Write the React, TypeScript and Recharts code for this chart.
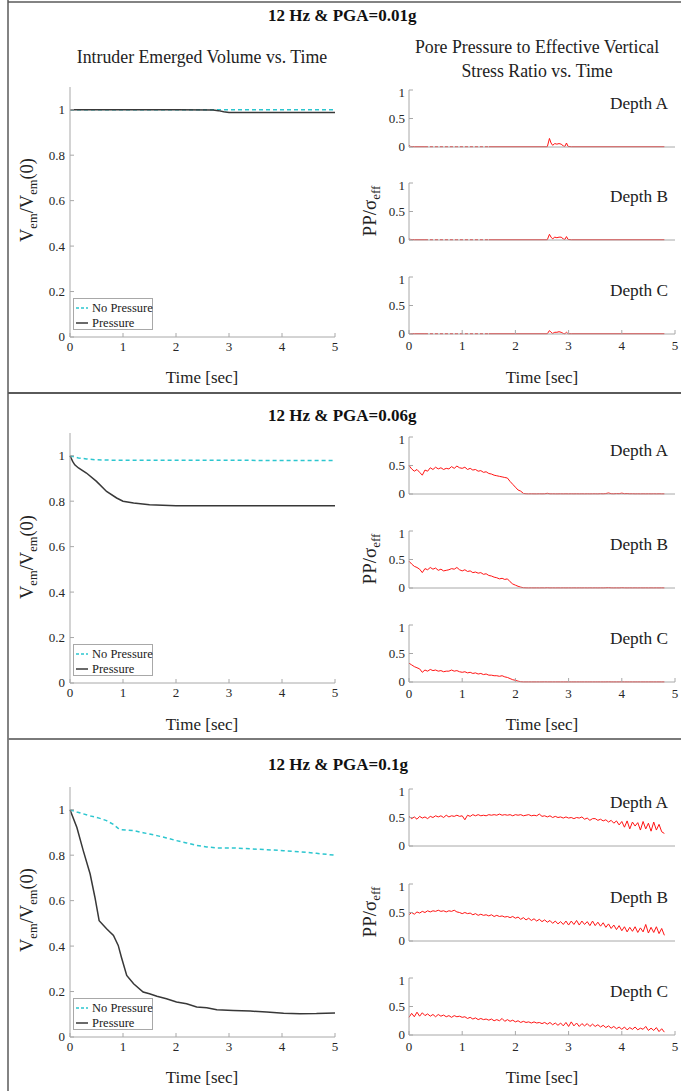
import React from 'react';
import { LineChart, Line, XAxis, YAxis } from 'recharts';

// ---- axis ticks ----
const timeTicks = [0, 1, 2, 3, 4, 5];
const volTicks = [0, 0.2, 0.4, 0.6, 0.8, 1];
const ppTicks = [0, 0.5, 1];

// ---- emerged volume, PGA = 0.01g ----
const vol1Time = [0, 1, 2, 2.7, 2.8, 2.9, 3.0, 4, 5];
const vol1NoPressure = [1, 1, 1, 1, 1, 1, 1, 1, 1];
const vol1Pressure = [1, 1, 1, 0.999, 0.996, 0.991, 0.988, 0.988, 0.988];

// ---- emerged volume, PGA = 0.06g ----
const vol2Time = [0, 0.05, 0.09, 0.16, 0.31, 0.5, 0.69, 0.88, 1.0, 1.2, 1.5, 2.0, 3, 4, 5];
const vol2NoPressure = [1.0, 0.997, 0.994, 0.99, 0.986, 0.982, 0.981, 0.98, 0.98, 0.98, 0.98, 0.98, 0.98, 0.979, 0.979];
const vol2Pressure = [1.0, 0.975, 0.96, 0.946, 0.924, 0.887, 0.843, 0.814, 0.8, 0.792, 0.784, 0.78, 0.78, 0.78, 0.78];

// ---- emerged volume, PGA = 0.1g ----
const vol3Time = [0, 0.13, 0.25, 0.38, 0.47, 0.55, 0.69, 0.82, 0.91, 0.97, 1.07, 1.2, 1.38, 1.5, 1.64, 1.82, 2.01, 2.2, 2.39, 2.58, 2.77, 3.08, 3.4, 3.71, 4.03, 4.34, 4.65, 5];
const vol3NoPressure = [1.0, 0.99, 0.982, 0.973, 0.968, 0.963, 0.952, 0.935, 0.918, 0.912, 0.91, 0.908, 0.899, 0.893, 0.886, 0.876, 0.864, 0.854, 0.843, 0.836, 0.832, 0.832, 0.828, 0.824, 0.82, 0.815, 0.808, 0.8];
const vol3Pressure = [1.0, 0.922, 0.82, 0.717, 0.615, 0.512, 0.476, 0.447, 0.403, 0.351, 0.271, 0.234, 0.198, 0.19, 0.179, 0.168, 0.154, 0.146, 0.132, 0.129, 0.12, 0.117, 0.114, 0.11, 0.105, 0.102, 0.103, 0.106];

// ---- pore pressure ratio, PGA = 0.01g (sparse samples) ----
const p1Time = [0, 0.03, 0.1, 0.3, 0.9, 1.5, 2.6, 2.64, 2.67, 2.7, 2.74, 2.78, 2.82, 2.86, 2.9, 2.93, 2.96, 2.99, 3.05, 4.8];
const p1Sparse = [null, null, null, 0.005, 0.005, 0.005, null, null, null, null, null, null, null, null, null, null, null, null, null, null];
const p1A = [0.03, 0.01, 0.005, 0.005, null, 0.005, 0.005, 0.15, 0.07, 0.03, 0.06, 0.05, 0.06, 0.05, 0.02, 0.01, 0.07, 0.01, 0.005, 0.005];
const p1B = [0.02, 0.01, 0.005, 0.005, null, 0.005, 0.005, 0.1, 0.05, 0.02, 0.05, 0.04, 0.05, 0.05, 0.02, 0.01, 0.06, 0.01, 0.005, 0.005];
const p1C = [0.01, 0.005, 0.005, 0.005, null, 0.005, 0.005, 0.06, 0.03, 0.01, 0.03, 0.03, 0.04, 0.03, 0.01, 0.005, 0.03, 0.005, 0.005, 0.005];

// ---- pore pressure ratio sample times for PGA = 0.06g and 0.1g ----
const ppTime = [
  0, 0.05, 0.1, 0.15, 0.2, 0.25, 0.3, 0.35, 0.4, 0.45,
  0.5, 0.55, 0.6, 0.65, 0.7, 0.75, 0.8, 0.85, 0.9, 0.95,
  1.0, 1.05, 1.1, 1.15, 1.2, 1.25, 1.3, 1.35, 1.4, 1.45,
  1.5, 1.55, 1.6, 1.65, 1.7, 1.75, 1.8, 1.85, 1.9, 1.95,
  2.0, 2.05, 2.1, 2.15, 2.2, 2.25, 2.3, 2.35, 2.4, 2.45,
  2.5, 2.55, 2.6, 2.65, 2.7, 2.75, 2.8, 2.85, 2.9, 2.95,
  3.0, 3.05, 3.1, 3.15, 3.2, 3.25, 3.3, 3.35, 3.4, 3.45,
  3.5, 3.55, 3.6, 3.65, 3.7, 3.75, 3.8, 3.85, 3.9, 3.95,
  4.0, 4.05, 4.1, 4.15, 4.2, 4.25, 4.3, 4.35, 4.4, 4.45,
  4.5, 4.55, 4.6, 4.65, 4.7, 4.75, 4.8,
];

const p2A = [
  0.5, 0.44, 0.4, 0.43, 0.38, 0.33, 0.42, 0.4, 0.46, 0.43,
  0.47, 0.44, 0.46, 0.43, 0.45, 0.44, 0.48, 0.45, 0.49, 0.46,
  0.45, 0.47, 0.43, 0.45, 0.42, 0.43, 0.4, 0.41, 0.38, 0.39,
  0.36, 0.35, 0.33, 0.32, 0.31, 0.3, 0.29, 0.28, 0.22, 0.17,
  0.12, 0.07, 0.05, 0.01, 0.004, 0.003, 0.004, 0.003, 0.003, 0.004,
  0.003, 0.004, 0.012, 0.003, 0.004, 0.003, 0.003, 0.004, 0.003, 0.004,
  0.003, 0.004, 0.003, 0.004, 0.003, 0.004, 0.003, 0.004, 0.003, 0.004,
  0.004, 0.003, 0.006, 0.004, 0.008, 0.018, 0.006, 0.004, 0.008, 0.006,
  0.015, 0.006, 0.008, 0.004, 0.005, 0.003, 0.004, 0.003, 0.004, 0.003,
  0.004, 0.003, 0.004, 0.003, 0.004, 0.003, 0.003,
];
const p2B = [
  0.47, 0.42, 0.38, 0.36, 0.33, 0.27, 0.34, 0.32, 0.36, 0.33,
  0.35, 0.31, 0.33, 0.3, 0.31, 0.32, 0.34, 0.33, 0.36, 0.32,
  0.3, 0.32, 0.29, 0.3, 0.27, 0.28, 0.26, 0.27, 0.24, 0.25,
  0.22, 0.21, 0.19, 0.18, 0.16, 0.17, 0.15, 0.16, 0.11, 0.07,
  0.05, 0.03, 0.015, 0.005, 0.003, 0.002, 0.003, 0.002, 0.003, 0.002,
  0.003, 0.002, 0.005, 0.002, 0.003, 0.002, 0.003, 0.002, 0.003, 0.002,
  0.003, 0.002, 0.003, 0.002, 0.003, 0.002, 0.003, 0.002, 0.003, 0.002,
  0.003, 0.002, 0.003, 0.002, 0.004, 0.006, 0.003, 0.002, 0.003, 0.002,
  0.005, 0.003, 0.002, 0.003, 0.002, 0.003, 0.002, 0.003, 0.002, 0.003,
  0.002, 0.003, 0.002, 0.003, 0.002, 0.003, 0.002,
];
const p2C = [
  0.33, 0.3, 0.27, 0.25, 0.23, 0.17, 0.21, 0.19, 0.22, 0.2,
  0.21, 0.19, 0.2, 0.18, 0.19, 0.19, 0.21, 0.19, 0.2, 0.18,
  0.17, 0.18, 0.16, 0.17, 0.15, 0.16, 0.14, 0.15, 0.13, 0.14,
  0.12, 0.12, 0.11, 0.11, 0.1, 0.11, 0.09, 0.08, 0.06, 0.04,
  0.03, 0.015, 0.005, 0.002, 0.002, 0.002, 0.002, 0.002, 0.002, 0.002,
  0.002, 0.003, 0.002, 0.002, 0.002, 0.002, 0.002, 0.002, 0.002, 0.002,
  0.002, 0.002, 0.002, 0.002, 0.002, 0.002, 0.002, 0.002, 0.002, 0.002,
  0.002, 0.002, 0.002, 0.002, 0.002, 0.003, 0.002, 0.002, 0.002, 0.002,
  0.003, 0.002, 0.002, 0.002, 0.002, 0.002, 0.002, 0.002, 0.002, 0.002,
  0.002, 0.002, 0.002, 0.002, 0.002, 0.002, 0.002,
];

const p3A = [
  0.52, 0.48, 0.51, 0.47, 0.52, 0.49, 0.51, 0.48, 0.52, 0.5,
  0.53, 0.51, 0.53, 0.5, 0.54, 0.51, 0.53, 0.52, 0.54, 0.52,
  0.53, 0.46, 0.54, 0.52, 0.55, 0.53, 0.55, 0.53, 0.54, 0.53,
  0.55, 0.54, 0.55, 0.54, 0.56, 0.54, 0.55, 0.54, 0.55, 0.53,
  0.55, 0.54, 0.55, 0.53, 0.54, 0.55, 0.53, 0.54, 0.53, 0.56,
  0.52, 0.53, 0.51, 0.53, 0.5, 0.52, 0.5, 0.51, 0.49, 0.51,
  0.49, 0.5, 0.48, 0.5, 0.49, 0.51, 0.47, 0.49, 0.45, 0.48,
  0.48, 0.45, 0.47, 0.44, 0.46, 0.42, 0.45, 0.4, 0.44, 0.37,
  0.43, 0.33, 0.44, 0.3, 0.42, 0.35, 0.41, 0.28, 0.43, 0.3,
  0.4, 0.26, 0.42, 0.28, 0.38, 0.25, 0.22,
];
const p3B = [
  0.46, 0.5, 0.47, 0.51, 0.49, 0.52, 0.5, 0.53, 0.51, 0.53,
  0.52, 0.54, 0.52, 0.53, 0.51, 0.53, 0.52, 0.54, 0.51, 0.5,
  0.48, 0.5, 0.48, 0.49, 0.46, 0.48, 0.45, 0.47, 0.45, 0.46,
  0.44, 0.46, 0.43, 0.45, 0.43, 0.44, 0.42, 0.43, 0.41, 0.43,
  0.4, 0.42, 0.38, 0.41, 0.37, 0.4, 0.36, 0.39, 0.35, 0.38,
  0.34, 0.37, 0.33, 0.36, 0.31, 0.35, 0.3, 0.34, 0.29, 0.35,
  0.28, 0.35, 0.29, 0.36, 0.28, 0.35, 0.29, 0.34, 0.27, 0.35,
  0.27, 0.33, 0.26, 0.32, 0.24, 0.3, 0.22, 0.28, 0.2, 0.27,
  0.18, 0.25, 0.16, 0.24, 0.17, 0.25, 0.15, 0.23, 0.16, 0.29,
  0.14, 0.24, 0.15, 0.25, 0.13, 0.22, 0.1,
];
const p3C = [
  0.31, 0.38, 0.32, 0.4, 0.33, 0.39, 0.34, 0.37, 0.33, 0.36,
  0.32, 0.36, 0.33, 0.35, 0.32, 0.34, 0.31, 0.34, 0.32, 0.33,
  0.31, 0.32, 0.29, 0.31, 0.28, 0.3, 0.27, 0.29, 0.27, 0.28,
  0.26, 0.28, 0.25, 0.27, 0.25, 0.29, 0.24, 0.27, 0.24, 0.26,
  0.23, 0.25, 0.22, 0.24, 0.22, 0.23, 0.21, 0.23, 0.21, 0.22,
  0.2, 0.22, 0.19, 0.22, 0.18, 0.21, 0.17, 0.21, 0.16, 0.22,
  0.15, 0.23, 0.16, 0.21, 0.15, 0.2, 0.16, 0.2, 0.15, 0.19,
  0.15, 0.18, 0.14, 0.17, 0.13, 0.16, 0.12, 0.15, 0.11, 0.14,
  0.1, 0.14, 0.09, 0.13, 0.1, 0.14, 0.09, 0.12, 0.1, 0.15,
  0.08, 0.12, 0.08, 0.13, 0.06, 0.11, 0.05,
];

const panelTitles = ['12 Hz & PGA=0.01g', '12 Hz & PGA=0.06g', '12 Hz & PGA=0.1g'];
const depthNames = ['Depth A', 'Depth B', 'Depth C'];
const legendLabels = ['No Pressure', 'Pressure'];

// ---- tables for recharts ----
const volTable = (time: number[], noP: number[], p: number[]) =>
  time.map((t, i) => ({ t, noPressure: noP[i], pressure: p[i] }));
const ppTable = (time: number[], v: (number | null)[], sparse?: (number | null)[]) =>
  time.map((t, i) => ({ t, v: v[i], sparse: sparse ? sparse[i] : null }));

const volData = [
  volTable(vol1Time, vol1NoPressure, vol1Pressure),
  volTable(vol2Time, vol2NoPressure, vol2Pressure),
  volTable(vol3Time, vol3NoPressure, vol3Pressure),
];
const ppData = [
  [ppTable(p1Time, p1A, p1Sparse), ppTable(p1Time, p1B, p1Sparse), ppTable(p1Time, p1C, p1Sparse)],
  [ppTable(ppTime, p2A), ppTable(ppTime, p2B), ppTable(ppTime, p2C)],
  [ppTable(ppTime, p3A), ppTable(ppTime, p3B), ppTable(ppTime, p3C)],
];

// ---- layout / style ----
const FONT = '"Liberation Serif", "Times New Roman", serif';
const BOX = '#a8a8a8';
const TICK_TEXT = '#262626';
const CYAN = '#2cc6cf';
const DARK = '#383838';
const RED = '#ff1414';
const FRAME = '#5a5a5a';

const volTops = [87, 433, 787];
const ppTops = [
  [90, 183, 277],
  [437, 531, 625],
  [789, 884, 978],
];
const titleBase = [21, 421, 770];
const timeLabelBase = [383, 730, 1083];
const volLabelMid = [200, 557, 910];

// serif tick labels drawn by the axis itself
const xTick = (props: any) => (
  <text
    x={props.x}
    y={props.y}
    dy="0.71em"
    textAnchor="middle"
    fill={TICK_TEXT}
    fontSize={13}
    fontFamily={FONT}
    style={{ fontFamily: FONT }}
  >
    {props.payload.value}
  </text>
);
const yTick = (props: any) => (
  <text
    x={props.x}
    y={props.y}
    dy="0.34em"
    textAnchor="end"
    fill={TICK_TEXT}
    fontSize={13}
    fontFamily={FONT}
    style={{ fontFamily: FONT }}
  >
    {props.payload.value}
  </text>
);

type PlotProps = {
  left: number;
  top: number;
  width: number;
  height: number;
  data: Record<string, number | null>[];
  yDomain: [number, number];
  yTicks: number[];
  showXLabels: boolean;
  xMargin: number;
  yMargin: number;
  children: React.ReactNode;
};

function Plot({ left, top, width, height, data, yDomain, yTicks, showXLabels, xMargin, yMargin, children }: PlotProps) {
  const padL = 45;
  const padT = 6;
  const padR = 6;
  const padB = 24;
  return (
    <div style={{ position: 'absolute', left: left - padL, top: top - padT, fontFamily: FONT }}>
      <LineChart
        width={width + padL + padR}
        height={height + padT + padB}
        data={data}
        margin={{ top: padT, right: padR, bottom: 0, left: 0 }}
      >
        <XAxis
          dataKey="t"
          type="number"
          domain={[0, 5]}
          ticks={timeTicks}
          height={padB}
          stroke={BOX}
          tickSize={-4}
          tickMargin={xMargin}
          tick={showXLabels ? xTick : false}
        />
        <XAxis
          xAxisId="top"
          orientation="top"
          dataKey="t"
          type="number"
          domain={[0, 5]}
          ticks={timeTicks}
          height={0}
          stroke={BOX}
          tickSize={-4}
          tick={false}
        />
        <YAxis
          type="number"
          domain={yDomain}
          ticks={yTicks}
          width={padL}
          stroke={BOX}
          tickSize={-4}
          tickMargin={yMargin}
          tick={yTick}
        />
        <YAxis
          yAxisId="right"
          orientation="right"
          type="number"
          domain={yDomain}
          ticks={yTicks}
          width={0}
          stroke={BOX}
          tickSize={-4}
          tick={false}
        />
        {children}
      </LineChart>
    </div>
  );
}

function VolumeLegend({ left, top }: { left: number; top: number }) {
  const styles = [
    { color: CYAN, dash: '3 2' },
    { color: DARK, dash: undefined },
  ];
  return (
    <div
      style={{
        position: 'absolute',
        left,
        top,
        width: 80,
        height: 32,
        border: `1px solid ${BOX}`,
        background: '#fff',
        fontFamily: FONT,
        fontSize: 12.5,
        color: '#222',
        boxSizing: 'border-box',
        whiteSpace: 'nowrap',
      }}
    >
      {legendLabels.map((label, i) => (
        <div key={label} style={{ position: 'absolute', left: 0, top: 2 + i * 15, height: 14, lineHeight: '14px' }}>
          <svg width={14} height={14} style={{ position: 'absolute', left: 2, top: 0 }}>
            <line x1={0} y1={7} x2={12} y2={7} stroke={styles[i].color} strokeWidth={1.5} strokeDasharray={styles[i].dash} />
          </svg>
          <span style={{ position: 'absolute', left: 18, top: 0 }}>{label}</span>
        </div>
      ))}
    </div>
  );
}

export default function App() {
  return (
    <div style={{ position: 'absolute', left: 0, top: 0, width: 681, height: 1091, background: '#fff', overflow: 'hidden' }}>
      {volData.map((d, k) => (
        <React.Fragment key={`vol${k}`}>
          <Plot
            left={70}
            top={volTops[k]}
            width={265}
            height={250}
            data={d}
            yDomain={[0, 1.1]}
            yTicks={volTicks}
            showXLabels
            xMargin={9}
            yMargin={9}
          >
            <Line dataKey="noPressure" stroke={CYAN} strokeWidth={1.5} strokeDasharray="4 3" dot={false} isAnimationActive={false} />
            <Line dataKey="pressure" stroke={DARK} strokeWidth={1.5} dot={false} isAnimationActive={false} />
          </Plot>
          <VolumeLegend left={73} top={volTops[k] + 250 - 39} />
        </React.Fragment>
      ))}

      {ppData.map((panel, k) =>
        panel.map((d, j) => (
          <Plot
            key={`pp${k}${j}`}
            left={409}
            top={ppTops[k][j]}
            width={266}
            height={57}
            data={d}
            yDomain={[0, 1]}
            yTicks={ppTicks}
            showXLabels={j === 2}
            xMargin={11}
            yMargin={8}
          >
            <Line dataKey="sparse" stroke={RED} strokeWidth={1} strokeDasharray="3 2" dot={false} isAnimationActive={false} />
            <Line dataKey="v" stroke={RED} strokeWidth={1} dot={false} isAnimationActive={false} />
          </Plot>
        ))
      )}

      <svg width={681} height={1091} style={{ position: 'absolute', left: 0, top: 0, pointerEvents: 'none' }} fontFamily={FONT}>
        {/* frame */}
        <line x1={8} y1={0} x2={8} y2={1091} stroke={FRAME} strokeWidth={1.5} />
        <line x1={8} y1={2} x2={681} y2={2} stroke={FRAME} strokeWidth={1.5} />
        <line x1={8} y1={393} x2={681} y2={393} stroke={FRAME} strokeWidth={2} />
        <line x1={8} y1={739} x2={681} y2={739} stroke="#7a7a7a" strokeWidth={2} />

        {/* column headings */}
        <text x={202} y={63} textAnchor="middle" fontSize={17.8} fill="#222">Intruder Emerged Volume vs. Time</text>
        <text x={537} y={53} textAnchor="middle" fontSize={17.8} fill="#222">Pore Pressure to Effective Vertical</text>
        <text x={537} y={77} textAnchor="middle" fontSize={17.8} fill="#222">Stress Ratio vs. Time</text>

        {panelTitles.map((title, k) => (
          <g key={`t${k}`}>
            <text x={268} y={titleBase[k]} fontSize={17} fontWeight="bold" fill="#111">{title}</text>
            <text x={202} y={timeLabelBase[k]} textAnchor="middle" fontSize={17} fill="#222">Time [sec]</text>
            <text x={542} y={timeLabelBase[k]} textAnchor="middle" fontSize={17} fill="#222">Time [sec]</text>
            <text
              x={33}
              y={volLabelMid[k]}
              transform={`rotate(-90 33 ${volLabelMid[k]})`}
              textAnchor="middle"
              fontSize={18.5}
              fill="#222"
            >
              V<tspan fontSize={12.5} dy={4}>em</tspan>
              <tspan dy={-4}>/V</tspan>
              <tspan fontSize={12.5} dy={4}>em</tspan>
              <tspan dy={-4}>(0)</tspan>
            </text>
            <text
              x={376}
              y={ppTops[k][1] + 28}
              transform={`rotate(-90 376 ${ppTops[k][1] + 28})`}
              textAnchor="middle"
              fontSize={19}
              fill="#222"
            >
              PP/σ<tspan fontSize={13} dy={4}>eff</tspan>
            </text>
            {depthNames.map((name, j) => (
              <text key={name} x={668} y={ppTops[k][j] + 19} textAnchor="end" fontSize={17.3} fill="#222">
                {name}
              </text>
            ))}
          </g>
        ))}
      </svg>
    </div>
  );
}
